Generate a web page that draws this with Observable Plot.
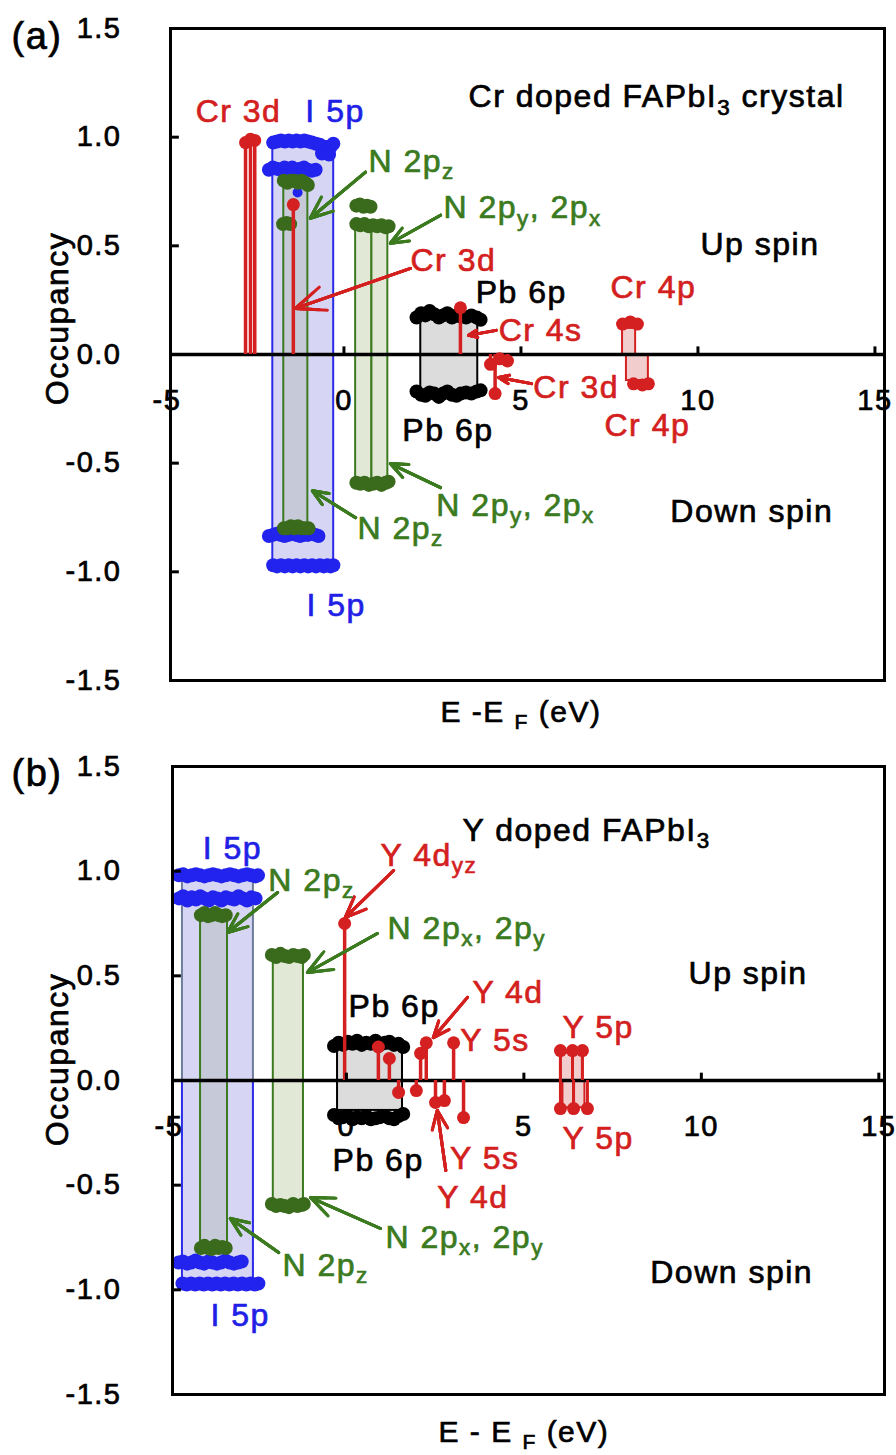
<!DOCTYPE html>
<html><head><meta charset="utf-8">
<script src="https://cdn.jsdelivr.net/npm/d3@7"></script>
<script src="https://cdn.jsdelivr.net/npm/@observablehq/plot@0.6"></script>
<style>
body{margin:0;background:#fff}
svg{display:block}
svg text{letter-spacing:1.5px}
</style>
</head><body><div id="chart"></div>
<script>
// ---------- shared axis ticks ----------
const yTickVals = [1.5, 1.0, 0.5, 0, -0.5, -1.0, -1.5];
const yTickLabels = ["1.5", "1.0", "0.5", "0.0", "-0.5", "-1.0", "-1.5"];
const xTickVals = [-5, 0, 5, 10, 15];
const xTickLabels = ["-5", "0", "5", "10", "15"];

// ---------- panel (a): Cr doped FAPbI3 crystal ----------
const aCr3dUpSpikes = [[-2.78, 0.975], [-2.64, 0.99], [-2.52, 0.985], [-1.43, 0.69]];
const aCr4sSpikes = [[3.29, 0.215]];
const aCr3dDownSpikes = [[4.14, -0.045], [4.27, -0.18], [4.40, -0.02], [4.62, -0.03]];
const aI5pUpTop = [[-2.00,0.975],[-1.89,0.98],[-1.78,0.985],[-1.67,0.98],[-1.56,0.985],[-1.45,0.98],[-1.34,0.985],[-1.23,0.98],[-1.12,0.985],[-1.01,0.98],[-0.90,0.975],[-0.79,0.97],[-0.68,0.965],[-0.62,0.925],[-0.57,0.955],[-0.52,0.93],[-0.47,0.95],[-0.42,0.92],[-0.38,0.955],[-0.30,0.97]];
const aI5pUpLow = [[-2.12,0.85],[-2.01,0.86],[-1.90,0.855],[-1.79,0.85],[-1.68,0.86],[-1.57,0.855],[-1.46,0.86],[-1.35,0.85],[-1.24,0.855],[-1.13,0.86],[-1.02,0.85],[-0.91,0.845],[-0.80,0.85]];
const aI5pDnHigh = [[-2.12,-0.835],[-2.01,-0.83],[-1.90,-0.825],[-1.79,-0.83],[-1.68,-0.835],[-1.57,-0.83],[-1.46,-0.825],[-1.35,-0.83],[-1.24,-0.835],[-1.13,-0.83],[-1.02,-0.83],[-0.91,-0.825],[-0.80,-0.83],[-0.72,-0.835]];
const aI5pDnLow = [[-2.00,-0.97],[-1.89,-0.975],[-1.78,-0.97],[-1.67,-0.975],[-1.56,-0.97],[-1.45,-0.975],[-1.34,-0.97],[-1.23,-0.975],[-1.12,-0.97],[-1.01,-0.975],[-0.90,-0.97],[-0.79,-0.975],[-0.68,-0.97],[-0.57,-0.975],[-0.47,-0.97],[-0.38,-0.975],[-0.30,-0.97]];
const aI5pStray = [[-1.31, 0.745]];
const aN2pzUp = [[-1.70,0.80],[-1.60,0.79],[-1.50,0.80],[-1.40,0.80],[-1.30,0.79],[-1.20,0.80],[-1.10,0.79],[-1.02,0.78]];
const aN2pzUp2 = [[-1.72,0.60],[-1.62,0.605],[-1.52,0.60]];
const aN2pzDn = [[-1.70,-0.80],[-1.60,-0.80],[-1.50,-0.79],[-1.40,-0.80],[-1.30,-0.79],[-1.20,-0.80],[-1.10,-0.80],[-1.00,-0.80]];
const aN2pxyUpTop = [[0.35,0.685],[0.45,0.69],[0.55,0.68],[0.65,0.685],[0.75,0.68]];
const aN2pxyUp = [[0.35,0.60],[0.46,0.595],[0.58,0.60],[0.70,0.59],[0.82,0.595],[0.94,0.59],[1.06,0.595],[1.18,0.585],[1.26,0.59]];
const aN2pxyDn = [[0.35,-0.59],[0.46,-0.595],[0.58,-0.59],[0.70,-0.60],[0.82,-0.595],[0.94,-0.59],[1.06,-0.60],[1.18,-0.59],[1.26,-0.585]];
const aPbUp = [[2.05,0.17],[2.18,0.19],[2.30,0.18],[2.42,0.20],[2.55,0.185],[2.68,0.17],[2.80,0.18],[2.92,0.19],[3.05,0.17],[3.18,0.18],[3.30,0.175],[3.45,0.17],[3.60,0.18],[3.75,0.17],[3.86,0.16]];
const aPbDn = [[2.05,-0.17],[2.18,-0.185],[2.30,-0.19],[2.42,-0.175],[2.55,-0.18],[2.68,-0.195],[2.80,-0.18],[2.92,-0.17],[3.05,-0.185],[3.18,-0.19],[3.30,-0.18],[3.45,-0.175],[3.60,-0.18],[3.75,-0.17],[3.86,-0.165]];
const aCr4pUp = [[7.87,0.14],[8.09,0.15],[8.29,0.14]];
const aCr4pDn = [[8.18,-0.135],[8.43,-0.14],[8.60,-0.135]];
const aBands = [
  ["I5p", -2.01, -0.29, -0.98, 0.98],
  ["N2pz", -1.70, -1.02, -0.79, 0.79],
  ["N2pxy", 0.33, 0.79, -0.58, 0.58],
  ["N2pxy", 0.79, 1.24, -0.58, 0.58],
  ["Pb", 2.17, 3.78, -0.175, 0.18],
  ["Red", 7.87, 8.24, 0, 0.12],
  ["Red", 7.98, 8.60, -0.12, 0]
];
const aLabels = [
  ["Cr 3d", -4.19, 1.115, "red"],
  ["I 5p", -1.09, 1.115, "blue"],
  ["Cr doped FAPbI_{3} crystal", 3.52, 1.184, "black"],
  ["N 2p_{z}", 0.69, 0.889, "green"],
  ["N 2p_{y}, 2p_{x}", 2.81, 0.673, "green"],
  ["Up spin", 10.07, 0.507, "black"],
  ["Cr 3d", 1.88, 0.433, "red"],
  ["Pb 6p", 3.72, 0.286, "black"],
  ["Cr 4p", 7.53, 0.309, "red"],
  ["Cr 4s", 4.37, 0.111, "red"],
  ["Cr 3d", 5.35, -0.152, "red"],
  ["Cr 4p", 7.36, -0.33, "red"],
  ["Pb 6p", 1.65, -0.35, "black"],
  ["N 2p_{y}, 2p_{x}", 2.61, -0.696, "green"],
  ["Down spin", 9.22, -0.724, "black"],
  ["N 2p_{z}", 0.38, -0.802, "green"],
  ["I 5p", -1.06, -1.157, "blue"]
];
const aArrows = [
  [0.61, 0.839, -0.95, 0.627, "green"],
  [2.73, 0.641, 1.31, 0.512, "green"],
  [1.88, 0.396, -1.37, 0.212, "red"],
  [4.30, 0.111, 3.52, 0.088, "red"],
  [5.30, -0.134, 4.37, -0.106, "red"],
  [2.73, -0.613, 1.31, -0.502, "green"],
  [0.33, -0.751, -0.89, -0.627, "green"]
];

// ---------- panel (b): Y doped FAPbI3 ----------
const bI5pUpTop = [[-4.72,0.98],[-4.60,0.985],[-4.48,0.975],[-4.36,0.98],[-4.24,0.985],[-4.12,0.98],[-4.00,0.975],[-3.88,0.98],[-3.76,0.985],[-3.64,0.98],[-3.52,0.975],[-3.40,0.98],[-3.28,0.985],[-3.16,0.98],[-3.04,0.975],[-2.92,0.98],[-2.80,0.985],[-2.68,0.98],[-2.56,0.975],[-2.49,0.98]];
const bI5pUpLow = [[-4.72,0.87],[-4.60,0.88],[-4.48,0.86],[-4.36,0.875],[-4.24,0.865],[-4.12,0.88],[-4.00,0.87],[-3.88,0.86],[-3.76,0.875],[-3.64,0.87],[-3.52,0.86],[-3.40,0.875],[-3.28,0.87],[-3.16,0.865],[-3.04,0.88],[-2.92,0.87],[-2.80,0.86],[-2.68,0.875],[-2.56,0.87]];
const bI5pDnHigh = [[-4.73,-0.87],[-4.61,-0.865],[-4.49,-0.875],[-4.37,-0.87],[-4.25,-0.86],[-4.13,-0.87],[-4.01,-0.875],[-3.89,-0.865],[-3.77,-0.87],[-3.65,-0.875],[-3.53,-0.87],[-3.41,-0.86],[-3.29,-0.87],[-3.17,-0.875],[-3.05,-0.87],[-2.95,-0.865]];
const bI5pDnLow = [[-4.62,-0.97],[-4.50,-0.975],[-4.38,-0.97],[-4.26,-0.975],[-4.14,-0.97],[-4.02,-0.975],[-3.90,-0.97],[-3.78,-0.975],[-3.66,-0.97],[-3.54,-0.975],[-3.42,-0.97],[-3.30,-0.975],[-3.18,-0.97],[-3.06,-0.975],[-2.94,-0.97],[-2.82,-0.975],[-2.70,-0.97],[-2.58,-0.975],[-2.48,-0.97]];
const bN2pzUp = [[-4.10,0.79],[-4.00,0.80],[-3.90,0.785],[-3.80,0.79],[-3.70,0.80],[-3.60,0.79],[-3.50,0.785],[-3.40,0.79]];
const bN2pzDn = [[-4.10,-0.80],[-4.00,-0.79],[-3.90,-0.80],[-3.80,-0.805],[-3.70,-0.79],[-3.60,-0.80],[-3.50,-0.795],[-3.40,-0.80]];
const bN2pxyUp = [[-2.10,0.60],[-1.98,0.59],[-1.86,0.605],[-1.74,0.595],[-1.62,0.59],[-1.50,0.60],[-1.38,0.595],[-1.26,0.59],[-1.20,0.60]];
const bN2pxyDn = [[-2.10,-0.59],[-1.98,-0.60],[-1.86,-0.595],[-1.74,-0.60],[-1.62,-0.605],[-1.50,-0.59],[-1.38,-0.60],[-1.26,-0.595],[-1.20,-0.59]];
const bPbUp = [[-0.35,0.165],[-0.22,0.18],[-0.09,0.17],[0.04,0.185],[0.17,0.175],[0.30,0.19],[0.43,0.17],[0.56,0.18],[0.69,0.175],[0.82,0.19],[0.95,0.17],[1.08,0.18],[1.21,0.185],[1.34,0.17],[1.47,0.175],[1.60,0.16]];
const bPbDn = [[-0.35,-0.165],[-0.22,-0.18],[-0.09,-0.175],[0.04,-0.17],[0.17,-0.185],[0.30,-0.175],[0.43,-0.18],[0.56,-0.17],[0.69,-0.185],[0.82,-0.18],[0.95,-0.175],[1.08,-0.17],[1.21,-0.18],[1.34,-0.185],[1.47,-0.17],[1.60,-0.16]];
const bY4dyzSpikes = [[-0.05, 0.75]];
const bYUpSpikes = [[0.90,0.16],[1.21,0.105],[2.09,0.13],[2.25,0.18],[3.02,0.18]];
const bYDnSpikes = [[1.47,-0.057],[1.97,-0.048],[2.51,-0.105],[2.76,-0.096],[3.30,-0.177]];
const bY5pUp = [[6.03,0.143],[6.37,0.143],[6.65,0.143]];
const bY5pDn = [[6.03,-0.134],[6.40,-0.134],[6.79,-0.134]];
const bBands = [
  ["I5pGrey", -4.62, -2.62, 0, 0.98],
  ["I5p", -4.62, -2.62, -0.98, 0],
  ["N2pz", -4.11, -3.35, -0.79, 0.79],
  ["N2pxy", -2.06, -1.21, -0.586, 0.586],
  ["Pb", -0.25, 1.58, -0.143, 0.15],
  ["Red", 6.03, 6.37, 0, 0.13],
  ["Red", 6.37, 6.65, 0, 0.13],
  ["Red", 6.10, 6.40, -0.13, 0],
  ["Red", 6.40, 6.72, -0.13, 0]
];
const bLabels = [
  ["I 5p", -4.05, 1.108, "blue"],
  ["N 2p_{z}", -2.20, 0.956, "green"],
  ["Y 4d_{yz}", 0.96, 1.075, "red"],
  ["Y doped FAPbI_{3}", 3.27, 1.194, "black"],
  ["N 2p_{x}, 2p_{y}", 1.16, 0.726, "green"],
  ["Up spin", 9.64, 0.511, "black"],
  ["Pb 6p", 0.06, 0.354, "black"],
  ["Y 4d", 3.55, 0.42, "red"],
  ["Y 5s", 3.21, 0.191, "red"],
  ["Y 5p", 6.09, 0.253, "red"],
  ["Y 5p", 6.09, -0.277, "red"],
  ["Y 5s", 2.92, -0.372, "red"],
  ["Pb 6p", -0.39, -0.382, "black"],
  ["Y 4d", 2.56, -0.56, "red"],
  ["N 2p_{x}, 2p_{y}", 1.10, -0.75, "green"],
  ["Down spin", 8.56, -0.917, "black"],
  ["N 2p_{z}", -1.80, -0.884, "green"],
  ["I 5p", -3.83, -1.123, "blue"]
];
const bArrows = [
  [-1.94, 0.898, -3.35, 0.707, "green"],
  [1.33, 1.003, -0.03, 0.779, "red"],
  [0.87, 0.702, -1.10, 0.516, "green"],
  [3.41, 0.397, 2.45, 0.205, "red"],
  [2.80, -0.43, 2.56, -0.143, "red"],
  [0.96, -0.707, -1.01, -0.559, "green"],
  [-1.91, -0.822, -3.27, -0.659, "green"]
];

// ---------- styles ----------
const FONT = "'Liberation Sans', Arial, Helvetica, sans-serif";
const TEXTCOL = {red: "#d41f1f", blue: "#1f1fe6", green: "#3b7a1e", black: "#000000"};
const DOTCOL = {red: "#d42020", blue: "#2323ee", green: "#3a6b1c", black: "#000000"};
const BAND = {
  I5p: {fill: "#d6d6f4", stroke: "#2a2ae8"},
  I5pGrey: {fill: "#d6d6f4", stroke: "#6e7c9c"},
  N2pz: {fill: "#c6cad8", stroke: "#3b7a1e"},
  N2pxy: {fill: "#e2e8d6", stroke: "#3b7a1e"},
  Pb: {fill: "#dcdcdc", stroke: "#000000"},
  Red: {fill: "#f1cdcd", stroke: "#d42020"}
};

function dots(arr, col, r = 7) {
  return Plot.dot(arr, {x: d => d[0], y: d => d[1], r, fill: DOTCOL[col], stroke: "none"});
}
function spikes(arr, col, w = 3.5) {
  return [
    Plot.ruleX(arr, {x: d => d[0], y1: d => 0, y2: d => d[1], stroke: DOTCOL[col], strokeWidth: w}),
    Plot.dot(arr, {x: d => d[0], y: d => d[1], r: 6.5, fill: DOTCOL[col], stroke: "none"})
  ];
}
function arrows(arr) {
  return [16, 12, 8, 4].map(h => Plot.arrow(arr, {
    x1: d => d[0], y1: d => d[1], x2: d => d[2], y2: d => d[3],
    stroke: d => TEXTCOL[d[4]], strokeWidth: 3, headLength: h, headAngle: 45
  }));
}

function panel(cfg) {
  const x0 = cfg.xDomain[0];
  const marks = [
    Plot.text(yTickVals, {x: d => x0, y: d => d, text: (d, i) => yTickLabels[i], textAnchor: "end", dx: -(cfg.ml - 121), fontSize: 29, fill: "#000"}),
    Plot.text(xTickVals, {x: d => d, y: d => 0, text: (d, i) => xTickLabels[i], dy: 46, fontSize: 29, fill: "#000"}),
    Plot.rect(cfg.bands, {x1: d => d[1], x2: d => d[2], y1: d => d[3], y2: d => d[4],
      fill: d => BAND[d[0]].fill, stroke: d => BAND[d[0]].stroke, strokeWidth: 2}),
    Plot.ruleY([0], {stroke: "#000", strokeWidth: 3.5}),
    ...cfg.layers,
    Plot.frame({stroke: "#000", strokeWidth: 3}),
    Plot.ruleY(yTickVals, {x1: d => x0, x2: d => x0 + 0.25, stroke: "#000", strokeWidth: 3}),
    Plot.ruleX(xTickVals.filter(v => v > x0), {x: d => d, y1: d => 0, y2: d => 0.035, stroke: "#000", strokeWidth: 3}),
    ...arrows(cfg.arrows),
    Plot.text(cfg.labels, {x: d => d[1], y: d => d[2], text: d => d[0], fill: d => TEXTCOL[d[3]], textAnchor: "start", fontSize: 32}),
    Plot.text([cfg.tag], {frameAnchor: "top-left", lineAnchor: "middle", dx: 11 - cfg.ml, dy: cfg.tagDy, textAnchor: "start", fontSize: 38, fill: "#000"}),
    Plot.text(["Occupancy"], {x: d => x0, y: d => cfg.yTitleY, dx: 57 - cfg.ml, rotate: -90, fontSize: 32, fill: "#000"}),
    Plot.text([cfg.xTitle], {x: d => 5, y: d => -1.5, dy: cfg.xTitleDy, fontSize: 30, fill: "#000"})
  ];
  return Plot.plot({
    width: 896, height: cfg.height,
    marginLeft: cfg.ml, marginRight: cfg.mr, marginTop: cfg.mt, marginBottom: cfg.mb,
    x: {domain: cfg.xDomain, axis: null},
    y: {domain: [-1.5, 1.5], axis: null},
    color: {type: "identity"},
    style: {fontFamily: FONT, background: "#fff", overflow: "visible"},
    marks
  });
}

function subify(svg) {
  const NS = "http://www.w3.org/2000/svg";
  svg.querySelectorAll("text").forEach(t => {
    const s = t.textContent;
    if (!s || s.indexOf("_{") < 0) return;
    t.textContent = "";
    const parts = s.split(/(_\{[^}]*\})/).filter(p => p.length);
    let prevSub = false;
    for (const p of parts) {
      const ts = document.createElementNS(NS, "tspan");
      if (p.startsWith("_{")) {
        ts.textContent = p.slice(2, -1);
        ts.setAttribute("font-size", "70%");
        ts.setAttribute("dy", "0.32em");
        prevSub = true;
      } else {
        ts.textContent = p;
        if (prevSub) ts.setAttribute("dy", "-0.224em");
        prevSub = false;
      }
      t.appendChild(ts);
    }
  });
}
function thicken(svg) {
  svg.querySelectorAll("text").forEach(t => {
    const f = getComputedStyle(t).fill;
    t.style.stroke = f;
    t.style.strokeWidth = "0.7px";
  });
}

const aLayers = [
  dots(aI5pUpTop, "blue"), dots(aI5pUpLow, "blue"), dots(aI5pDnHigh, "blue"), dots(aI5pDnLow, "blue"),
  dots(aI5pStray, "blue", 5),
  dots(aN2pzUp, "green"), dots(aN2pzUp2, "green"), dots(aN2pzDn, "green"),
  dots(aN2pxyUpTop, "green"), dots(aN2pxyUp, "green"), dots(aN2pxyDn, "green"),
  dots(aPbUp, "black"), dots(aPbDn, "black"),
  ...spikes(aCr3dUpSpikes, "red"), ...spikes(aCr4sSpikes, "red"), ...spikes(aCr3dDownSpikes, "red"),
  dots(aCr4pUp, "red", 6.5), dots(aCr4pDn, "red", 6.5)
];
const bLayers = [
  dots(bI5pUpTop, "blue"), dots(bI5pUpLow, "blue"), dots(bI5pDnHigh, "blue"), dots(bI5pDnLow, "blue"),
  dots(bN2pzUp, "green"), dots(bN2pzDn, "green"),
  dots(bN2pxyUp, "green"), dots(bN2pxyDn, "green"),
  dots(bPbUp, "black"), dots(bPbDn, "black"),
  ...spikes(bY4dyzSpikes, "red"), ...spikes(bYUpSpikes, "red"), ...spikes(bYDnSpikes, "red"),
  ...spikes(bY5pUp, "red", 3), ...spikes(bY5pDn, "red", 3)
];

const svgA = panel({
  height: 735, ml: 170, mr: 12, mt: 28, mb: 55, xDomain: [-4.9, 15.27],
  bands: aBands, layers: aLayers, labels: aLabels, arrows: aArrows,
  tag: "(a)", tagDy: 8, yTitleY: 0.166, xTitle: "E -E _{F} (eV)", xTitleDy: 32
});
const svgB = panel({
  height: 720, ml: 172, mr: 12, mt: 31, mb: 61, xDomain: [-4.9, 15.16],
  bands: bBands, layers: bLayers, labels: bLabels, arrows: bArrows,
  tag: "(b)", tagDy: 7, yTitleY: 0.1, xTitle: "E - E _{F} (eV)", xTitleDy: 38
});
subify(svgA); subify(svgB);
const root = document.getElementById("chart");
root.append(svgA, svgB);
thicken(svgA); thicken(svgB);
</script>
</body></html>
